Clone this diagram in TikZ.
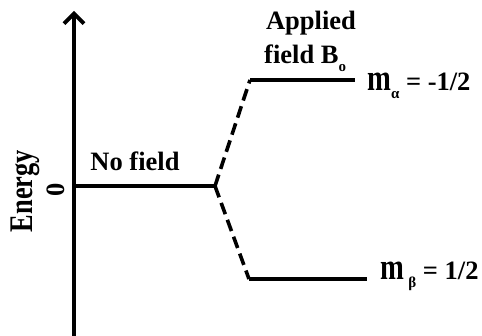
\documentclass[tikz,border=0pt]{standalone}
\usepackage{fontspec}
\setmainfont{Liberation Serif}
\usetikzlibrary{arrows.meta}
\newcommand{\emmletter}{\scalebox{1.08}[1.4]{m}}
\newcommand{\subsym}[1]{\raisebox{-0.3em}{\fontsize{15}{15}\selectfont #1}}
\begin{document}
\begin{tikzpicture}[x=1pt,y=-1pt,
  lbl/.style={font=\fontsize{26.5}{28}\selectfont\bfseries, inner sep=0pt},
  axisline/.style={line width=3.8pt},
  levelline/.style={line width=3.6pt},
  splitline/.style={line width=3.6pt, dash pattern=on 12pt off 6pt, line join=round}]
\useasboundingbox (0,0) rectangle (482,336);
\coordinate (ab) at (74,345);
\coordinate (at) at (74,11);
\coordinate (z0) at (74,186);
\coordinate (z1) at (215,186);
\coordinate (u0) at (250,80);
\coordinate (u1) at (355,80);
\coordinate (l0) at (249,279);
\coordinate (l1) at (367,279);
\draw[axisline, -{Straight Barb[length=10pt,width=20pt]}] (ab) -- (at);
\draw[levelline] (z0) -- (z1);
\draw[levelline] (u0) -- (u1);
\draw[levelline] (l0) -- (l1);
\draw[splitline] (z1) -- (u0);
\draw[splitline] (z1) -- (l0);
\node[lbl, anchor=base] (nofield) at (135,171) {No field};
\node[lbl, anchor=base] (applied) at (311,30) {Applied};
\node[lbl, anchor=base west] (fieldb) at (264,64) {field B\subsym{o}};
\node[lbl, anchor=base west] (malpha) at (367,91) {\emmletter\subsym{α} = -1/2};
\node[lbl, anchor=base west] (mbeta) at (380,280) {\emmletter\,\subsym{β} = 1/2};
\node[lbl, rotate=90] (energy) at (25,191) {\scalebox{0.8}[1]{\fontsize{33}{33}\selectfont Energy}};
\node[lbl, rotate=90] (zero) at (56,190) {0};
\end{tikzpicture}
\end{document}
